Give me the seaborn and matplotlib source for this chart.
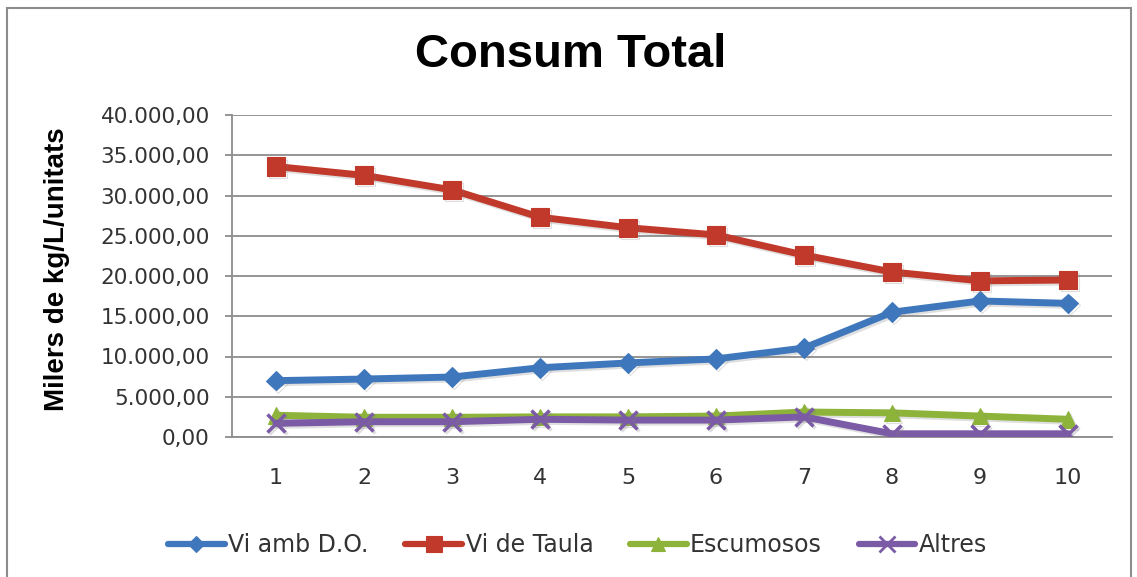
import matplotlib
matplotlib.use("Agg")
import matplotlib.pyplot as plt
import matplotlib.patheffects as pe
from matplotlib.ticker import FuncFormatter, MultipleLocator
from matplotlib.lines import Line2D
from matplotlib.patches import Rectangle
import seaborn as sns
import pandas as pd

# Annual consumption (thousands of kg / L / units)
periods = [1, 2, 3, 4, 5, 6, 7, 8, 9, 10]
vi_amb_do = [7000, 7200, 7450, 8600, 9200, 9700, 11050, 15500, 16900, 16600]
vi_de_taula = [33600, 32500, 30700, 27300, 26000, 25100, 22600, 20500, 19400, 19500]
escumosos = [2700, 2450, 2450, 2500, 2500, 2600, 3100, 3000, 2600, 2200]
altres = [1700, 1900, 1900, 2200, 2100, 2100, 2500, 400, 400, 400]

series_names = ["Vi amb D.O.", "Vi de Taula", "Escumosos", "Altres"]
series_values = [vi_amb_do, vi_de_taula, escumosos, altres]

colors = ["#3f77bc", "#c0392b", "#8db33a", "#7b5aa6"]
markers = ["D", "s", "^", "x"]
msizes = [10, 13, 12, 13]

sns.set_theme(style="white")
plt.rcParams["font.family"] = ["Liberation Sans", "DejaVu Sans"]

fig = plt.figure(figsize=(11.37, 5.77), dpi=100)
ax = fig.add_axes([232 / 1137, 1 - 437 / 577, (1112 - 232) / 1137, (437 - 115) / 577])

df = pd.DataFrame({"periode": periods})
for name, vals in zip(series_names, series_values):
    df[name] = vals

shadow = [pe.SimpleLineShadow(offset=(1.5, -1.5), alpha=0.25, shadow_color="gray"), pe.Normal()]
for name, col, mk, ms in zip(series_names, colors, markers, msizes):
    sns.lineplot(data=df, x="periode", y=name, ax=ax, color=col, linewidth=5,
                 marker=mk, markersize=ms, markeredgecolor=col,
                 markeredgewidth=2.5 if mk == "x" else 0.8,
                 path_effects=shadow, zorder=3)

ax.set_xlim(0.5, 10.5)
ax.set_ylim(0, 40000)
ax.yaxis.set_major_locator(MultipleLocator(5000))
ax.set_xticks(periods)
ax.set_xticklabels([str(p) for p in periods])


def fmt(v, _):
    s = f"{v:,.2f}"
    return s.replace(",", "X").replace(".", ",").replace("X", ".")


ax.yaxis.set_major_formatter(FuncFormatter(fmt))
ax.grid(axis="y", color="#8c8c8c", linewidth=1.3, zorder=0)
ax.set_axisbelow(True)
for side in ["top", "right"]:
    ax.spines[side].set_visible(False)
for side in ["left", "bottom"]:
    ax.spines[side].set_color("#8c8c8c")
    ax.spines[side].set_linewidth(1.3)
ax.tick_params(axis="y", which="major", length=5, color="#8c8c8c", width=1.3,
               labelsize=15.5, labelcolor="#333333", pad=11, left=True)
ax.tick_params(axis="x", length=0, labelsize=16, labelcolor="#333333", pad=22)
for lbl in ax.get_xticklabels() + ax.get_yticklabels():
    lbl.set_fontfamily("DejaVu Sans")

ax.set_xlabel("")
ax.set_ylabel("Milers de kg/L/unitats", fontsize=20, fontweight="bold", color="black")
ax.yaxis.set_label_coords((70 - 232) / 880, (437 - 269) / 322)

fig.text(0.502, 1 - 55 / 577, "Consum Total", ha="center", va="center",
         fontsize=34, fontweight="bold", color="black")

handles = [Line2D([0], [0], color=c, linewidth=4.5, marker=m, markersize=s * 0.85,
                  markeredgecolor=c, markeredgewidth=2 if m == "x" else 0.8)
           for c, m, s in zip(colors, markers, msizes)]
leg = fig.legend(handles, series_names, loc="center", bbox_to_anchor=(0.508, 1 - 545 / 577),
                 ncol=4, frameon=False, handlelength=2.4, handletextpad=0.15,
                 columnspacing=1.55, prop={"family": "DejaVu Sans", "size": 17})
for t in leg.get_texts():
    t.set_color("#333333")

fig.patches.append(Rectangle((7 / 1137, -0.05), (1131 - 7) / 1137, 1 - 8 / 577 + 0.05,
                             transform=fig.transFigure, fill=False,
                             edgecolor="#8c8c8c", linewidth=1.5))

fig.savefig("out.png", dpi=100)
